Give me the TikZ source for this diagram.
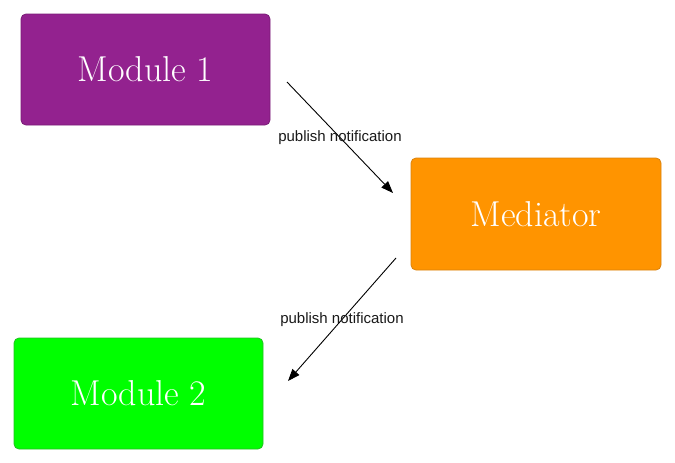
\documentclass[tikz,border=0pt]{standalone}
\usepackage{fontspec}
\newfontfamily\labelfont{Liberation Sans}
\usetikzlibrary{arrows.meta}
\definecolor{modone}{HTML}{93228F}
\definecolor{modoneb}{HTML}{7A1C77}
\definecolor{medfill}{HTML}{FF9400}
\definecolor{medb}{HTML}{D9820E}
\definecolor{modtwo}{HTML}{00FF00}
\definecolor{modtwob}{HTML}{22C022}
\tikzset{
  box/.style={rectangle, rounded corners=5pt, minimum width=249pt, minimum height=111pt,
    line width=0.8pt, text=white, font=\fontsize{36}{40}\selectfont, inner sep=0pt},
  conn/.style={line width=0.9pt, -{Triangle[length=12pt,width=9pt]}},
  lbl/.style={font=\labelfont\fontsize{15}{17}\selectfont, text=black!90, inner sep=0pt}
}
\begin{document}
\begin{tikzpicture}[x=1pt,y=-1pt]
\useasboundingbox (0,0) rectangle (675,463);
\node[box, fill=modone, draw=modoneb] (m1) at (145.5,69.5) {Module 1};
\node[box, fill=medfill, draw=medb, minimum width=250pt, minimum height=112pt] (med) at (536,214) {Mediator};
\node[box, fill=modtwo, draw=modtwob] (m2) at (138.5,393.5) {Module 2};
\coordinate (a1s) at (287,82);
\coordinate (a1e) at (393,193);
\coordinate (a2s) at (396,258);
\coordinate (a2e) at (288,381);
\draw[conn] (a1s) -- node[lbl] (l1) {publish notification} (a1e);
\draw[conn] (a2s) -- node[lbl] (l2) {publish notification} (a2e);
\end{tikzpicture}
\end{document}
